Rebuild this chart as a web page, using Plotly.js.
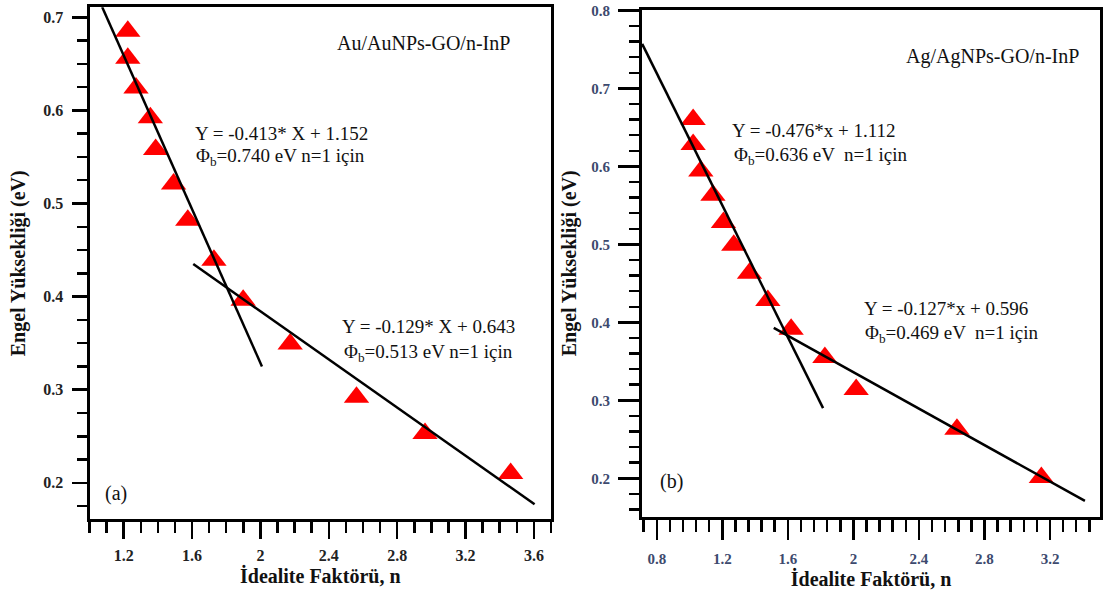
<!DOCTYPE html>
<html><head><meta charset="utf-8">
<script src="https://cdn.plot.ly/plotly-3.0.1.min.js"></script>
<style>body{margin:0;background:#fff}#chart{width:1105px;height:595px}</style>
</head><body><div id="chart"></div>
<script>
// ---- Panel (a): Au/AuNPs-GO/n-InP ----
const idealityA = [1.224,1.224,1.272,1.356,1.387,1.492,1.575,1.728,1.899,2.174,2.562,2.963,3.464];
const barrierA  = [0.685,0.656,0.624,0.592,0.558,0.521,0.482,0.439,0.396,0.349,0.292,0.253,0.210];
const fitA1X = [1.074, 2.009];
const fitA1Y = [0.711, 0.325];
const fitA2X = [1.607, 3.604];
const fitA2Y = [0.435, 0.177];

// ---- Panel (b): Ag/AgNPs-GO/n-InP ----
const idealityB = [1.022,1.022,1.069,1.143,1.207,1.270,1.366,1.478,1.620,1.826,2.017,2.632,3.147];
const barrierB  = [0.660,0.628,0.594,0.563,0.528,0.499,0.463,0.428,0.391,0.355,0.314,0.263,0.201];
const fitB1X = [0.711, 1.815];
const fitB1Y = [0.757, 0.290];
const fitB2X = [1.514, 3.413];
const fitB2Y = [0.393, 0.171];

// ---- Texts ----
const labelA = "Au/AuNPs-GO/n-InP";
const labelB = "Ag/AgNPs-GO/n-InP";
const eqA1 = "Y = -0.413* X + 1.152";
const phiA1 = "Φ<sub>b</sub>=0.740 eV n=1 için";
const eqA2 = "Y = -0.129* X + 0.643";
const phiA2 = "Φ<sub>b</sub>=0.513 eV n=1 için";
const eqB1 = "Y = -0.476*x + 1.112";
const phiB1 = "Φ<sub>b</sub>=0.636 eV  n=1 için";
const eqB2 = "Y = -0.127*x + 0.596";
const phiB2 = "Φ<sub>b</sub>=0.469 eV  n=1 için";
const xTitle = "İdealite Faktörü, n";
const yTitle = "Engel Yüksekliği (eV)";

const W = 1105, H = 595;
const px = v => v / W, py = v => 1 - v / H;
const SERIF = "Liberation Serif, Times New Roman, serif";

const markerStyle = {symbol: 'triangle-up', size: 22, color: '#ff0000'};
const lineStyle = {color: '#000', width: 2.5};

const traces = [
  {x: idealityA, y: barrierA, type: 'scatter', mode: 'markers', marker: markerStyle, xaxis: 'x', yaxis: 'y', cliponaxis: false},
  {x: fitA1X, y: fitA1Y, type: 'scatter', mode: 'lines', line: lineStyle, xaxis: 'x', yaxis: 'y'},
  {x: fitA2X, y: fitA2Y, type: 'scatter', mode: 'lines', line: lineStyle, xaxis: 'x', yaxis: 'y'},
  {x: idealityB, y: barrierB, type: 'scatter', mode: 'markers', marker: markerStyle, xaxis: 'x2', yaxis: 'y2', cliponaxis: false},
  {x: fitB1X, y: fitB1Y, type: 'scatter', mode: 'lines', line: lineStyle, xaxis: 'x2', yaxis: 'y2'},
  {x: fitB2X, y: fitB2Y, type: 'scatter', mode: 'lines', line: lineStyle, xaxis: 'x2', yaxis: 'y2'}
];

function axisBase(extra) {
  return Object.assign({
    showgrid: false, zeroline: false, showline: true, mirror: true,
    linecolor: '#000', linewidth: 3, ticks: 'outside', tickcolor: '#000',
    tickwidth: 2.5, automargin: false
  }, extra);
}
const tickFontA = {family: SERIF, size: 16, color: '#222', weight: 700};
const tickFontB = {family: SERIF, size: 15, color: '#3d4a6e', weight: 700};
const titleFont = {family: SERIF, size: 20, color: '#111', weight: 700};

const layout = {
  width: W, height: H, showlegend: false,
  paper_bgcolor: '#fff', plot_bgcolor: '#fff',
  margin: {l: 0, r: 0, t: 0, b: 0},
  xaxis: axisBase({
    domain: [px(89.5), px(551)], range: [1.0, 3.7], anchor: 'y',
    tick0: 1.2, dtick: 0.4, ticklen: 17, tickfont: tickFontA, ticklabelstandoff: 2,
    minor: {dtick: 0.1, tick0: 1.0, ticks: 'outside', ticklen: 11, tickwidth: 2.5, tickcolor: '#000', showgrid: false},
    title: {text: xTitle, font: titleFont, standoff: 7}
  }),
  yaxis: axisBase({
    domain: [py(519.3), py(7.3)], range: [0.1608, 0.7107], anchor: 'x',
    tick0: 0, dtick: 0.1, ticklen: 15, tickfont: tickFontA, ticklabelstandoff: 5,
    minor: {dtick: 0.025, tick0: 0, ticks: 'outside', ticklen: 10, tickwidth: 2.5, tickcolor: '#000', showgrid: false},
    title: {text: yTitle, font: titleFont, standoff: 13}
  }),
  xaxis2: axisBase({
    domain: [px(642), px(1100)], range: [0.71, 3.505], anchor: 'y2',
    tick0: 0.8, dtick: 0.4, ticklen: 20, tickfont: tickFontB, ticklabelstandoff: 6,
    minor: {dtick: 0.08, tick0: 0.8, ticks: 'outside', ticklen: 12, tickwidth: 2.5, tickcolor: '#000', showgrid: false},
    title: {text: xTitle, font: titleFont, standoff: 2}
  }),
  yaxis2: axisBase({
    domain: [py(516.7), py(10)], range: [0.1508, 0.8005], anchor: 'x2',
    tick0: 0, dtick: 0.1, ticklen: 21, tickfont: tickFontB, ticklabelstandoff: 5,
    minor: {dtick: 0.02, tick0: 0, ticks: 'outside', ticklen: 10, tickwidth: 2.5, tickcolor: '#000', showgrid: false},
    title: {text: yTitle, font: titleFont, standoff: 10}
  }),
  annotations: []
};

const annFont = {family: SERIF, size: 19, color: '#111'};
function addText(text, x, y, size) {
  layout.annotations.push({
    text: text, xref: 'paper', yref: 'paper', x: px(x), y: py(y),
    xanchor: 'left', yanchor: 'middle', showarrow: false,
    font: Object.assign({}, annFont, size ? {size: size} : {})
  });
}
addText(labelA, 335, 43.3, 20);
addText(eqA1, 193, 133.3);
addText(phiA1, 194, 157.5);
addText(eqA2, 340, 326.7);
addText(phiA2, 342, 352.5);
addText("(a)", 103, 493.3, 20);
addText(labelB, 904, 56.7, 20);
addText(eqB1, 730, 130);
addText(phiB1, 732, 156);
addText(eqB2, 862, 308.3);
addText(phiB2, 863, 334);
addText("(b)", 658, 481.7, 20);

Plotly.newPlot('chart', traces, layout, {displayModeBar: false, staticPlot: true});
</script>
</body></html>
